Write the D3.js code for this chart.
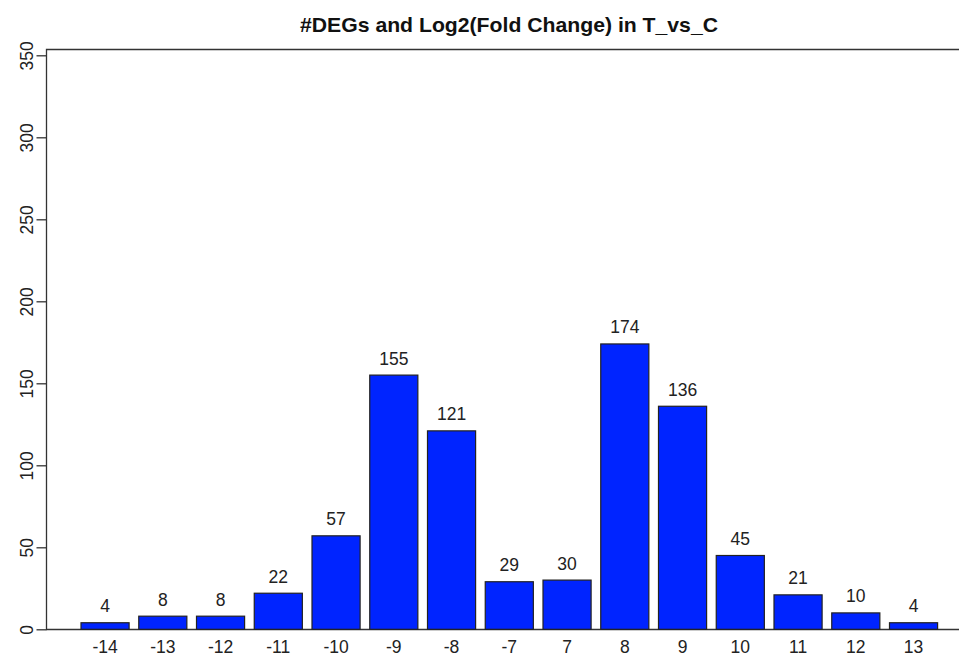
<!DOCTYPE html>
<html><head><meta charset="utf-8">
<script src="https://cdn.jsdelivr.net/npm/d3@7"></script>
<style>body{margin:0;background:#fff;} text{font-family:"Liberation Sans",Arial,Helvetica,sans-serif;}</style>
</head><body><svg id="c" width="959" height="657"></svg>
<script>
const categories = ["-14","-13","-12","-11","-10","-9","-8","-7","7","8","9","10","11","12","13"];
const counts = [4,8,8,22,57,155,121,29,30,174,136,45,21,10,4];
const yTicks = [0,50,100,150,200,250,300,350];
const title = "#DEGs and Log2(Fold Change) in T_vs_C";

const svg = d3.select("#c");
const box = {l:46.5, t:49.5, r:972, b:629.5};
const y = d3.scaleLinear().domain([0,350]).range([629.3,55.3]);
const x = d3.scaleBand().domain(categories).range([81,937.6]).paddingInner(0.167).paddingOuter(0);

// frame
svg.append("path").attr("d",`M${box.r},${box.t}H${box.l}V${box.b}H${box.r}`)
  .attr("fill","none").attr("stroke","#333").attr("stroke-width",1.3);

// y axis
const ya = svg.append("g").attr("transform",`translate(${box.l},0)`)
  .call(d3.axisLeft(y).tickValues(yTicks).tickSize(10).tickPadding(0).tickFormat(d3.format("d")));
ya.select(".domain").remove();
ya.selectAll(".tick line").attr("stroke","#333").attr("stroke-width",1.3);
ya.selectAll(".tick text").attr("x",null).attr("dy",null).attr("text-anchor","middle")
  .attr("transform","translate(-20,0) rotate(-90)").attr("dy","0.35em")
  .attr("font-size",17.5).attr("fill","#222").style("font-family",'"Liberation Sans",Arial,sans-serif');

// bars
svg.append("g").selectAll("rect").data(counts).join("rect")
  .attr("x",(d,i)=>x(categories[i])).attr("width",x.bandwidth())
  .attr("y",d=>y(d)).attr("height",d=>y(0)-y(d))
  .attr("fill","#0024FF").attr("stroke","#222").attr("stroke-width",1.2);

// value labels
svg.append("g").selectAll("text").data(counts).join("text")
  .attr("x",(d,i)=>x(categories[i])+x.bandwidth()/2).attr("y",d=>y(d)-10.5)
  .attr("text-anchor","middle").attr("font-size",17.5).attr("fill","#222").text(d=>d);

// x labels
svg.append("g").selectAll("text").data(categories).join("text")
  .attr("x",d=>x(d)+x.bandwidth()/2).attr("y",652.5)
  .attr("text-anchor","middle").attr("font-size",17.5).attr("fill","#222").text(d=>d);

// title
svg.append("text").attr("x",509).attr("y",32.3).attr("text-anchor","middle")
  .attr("font-size",20.5).attr("font-weight","bold").attr("fill","#111")
  .attr("textLength",418).attr("lengthAdjust","spacingAndGlyphs").text(title);
</script></body></html>
